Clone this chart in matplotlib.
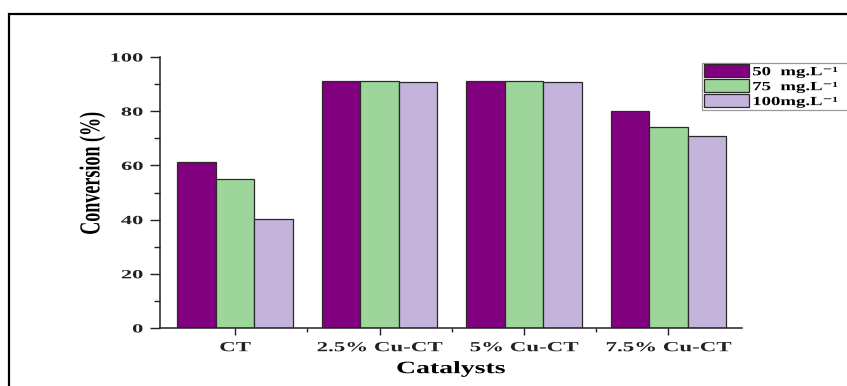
import matplotlib
matplotlib.use("Agg")
import matplotlib.pyplot as plt
import numpy as np
from matplotlib.patheffects import AbstractPathEffect
from matplotlib.transforms import Affine2D
from matplotlib.ticker import MultipleLocator, FixedLocator
from matplotlib.patches import Rectangle

# ---------------- data ----------------
categories = ["CT", "2.5% Cu-CT", "5% Cu-CT", "7.5% Cu-CT"]
series_labels = ["50  mg.L\u207b\u00b9", "75  mg.L\u207b\u00b9", "100mg.L\u207b\u00b9"]
conv_50 = [61.2, 91.2, 91.0, 79.9]
conv_75 = [54.9, 91.1, 91.0, 74.0]
conv_100 = [40.4, 90.9, 90.9, 70.9]
y_ticks = [0, 20, 40, 60, 80, 100]
series = [conv_50, conv_75, conv_100]
colors = ["#800080", "#9cd69a", "#c4b3da"]

plt.rcParams["font.family"] = ["Liberation Serif", "DejaVu Serif"]
plt.rcParams["font.weight"] = "bold"


class HStretch(AbstractPathEffect):
    """Stretch glyphs horizontally about the text anchor."""
    def __init__(self, text, sx):
        super().__init__()
        self._text = text
        self._sx = sx

    def draw_path(self, renderer, gc, tpath, affine, rgbFace=None):
        cx, _ = self._text._get_xy_display()
        tr = affine + Affine2D().translate(-cx, 0).scale(self._sx, 1).translate(cx, 0)
        renderer.draw_path(gc, tpath, tr, rgbFace)


W, H = 847, 386
fig = plt.figure(figsize=(W / 100, H / 100), dpi=100)
fig.patch.set_facecolor("white")
ax = fig.add_axes([160 / W, 1 - 328 / H, 582 / W, 271 / H])

x = np.arange(len(categories))
bw = 0.267
handles = []
for i, (vals, col) in enumerate(zip(series, colors)):
    b = ax.bar(x + (i - 1) * bw, vals, bw, color=col, edgecolor="#2a2a2a",
               linewidth=0.9, label=series_labels[i])
    handles.append(b)

ax.set_xlim(-0.52, 3.51)
ax.set_ylim(0, 100)
ax.set_yticks(y_ticks)
ax.yaxis.set_minor_locator(MultipleLocator(10))
ax.set_xticks(x)
ax.set_xticklabels(categories)
ax.xaxis.set_minor_locator(FixedLocator([0.5, 1.5, 2.5]))

for s in ["top", "right"]:
    ax.spines[s].set_visible(False)
for s in ["left", "bottom"]:
    ax.spines[s].set_linewidth(1.1)
    ax.spines[s].set_color("#222222")

ax.tick_params(axis="x", which="major", direction="out", length=5, width=1.0,
               pad=4.5, labelsize=10, colors="#222222")
ax.tick_params(axis="x", which="minor", direction="out", length=3, width=1.0,
               colors="#222222")
ax.tick_params(axis="y", which="major", direction="out", length=7, width=1.0,
               pad=5, labelsize=9, colors="#222222")
ax.tick_params(axis="y", which="minor", direction="out", length=4, width=1.0,
               colors="#222222")

for t in ax.xaxis.get_major_ticks():
    t.label1.set_fontweight("bold")
    t.label1.set_path_effects([HStretch(t.label1, 1.65)])
for t in ax.yaxis.get_major_ticks():
    t.label1.set_fontweight("bold")
    t.label1.set_path_effects([HStretch(t.label1, 1.8)])

ax.set_xlabel("Catalysts", fontsize=12.5, fontweight="bold", labelpad=5)
ax.set_ylabel("Conversion (%)", fontsize=13, fontweight="bold")
ax.yaxis.set_label_coords(-0.093, 0.57)
ax.xaxis.label.set_path_effects([HStretch(ax.xaxis.label, 1.6)])
ax.yaxis.label.set_path_effects([HStretch(ax.yaxis.label, 1.6)])

leg = fig.legend(handles, series_labels, loc="upper left",
                 bbox_to_anchor=(702 / W, 1 - 112 / H, 148 / W, 49 / H),
                 bbox_transform=fig.transFigure, mode="expand",
                 fontsize=9, frameon=True, fancybox=False, framealpha=1,
                 edgecolor="#999999", borderpad=0.12, labelspacing=0.1,
                 handlelength=3.6, handleheight=1.22, handletextpad=0.3,
                 borderaxespad=0)
leg.get_frame().set_linewidth(0.9)
for t in leg.get_texts():
    t.set_fontweight("bold")
    t.set_path_effects([HStretch(t, 1.5)])

border = Rectangle((8.5 / W, -0.5), 2.0, 0.5 + 1 - 13.5 / H,
                   transform=fig.transFigure, fill=False, edgecolor="black",
                   linewidth=1.6, clip_on=False)
fig.add_artist(border)

fig.savefig("out.png", dpi=100, facecolor="white")
